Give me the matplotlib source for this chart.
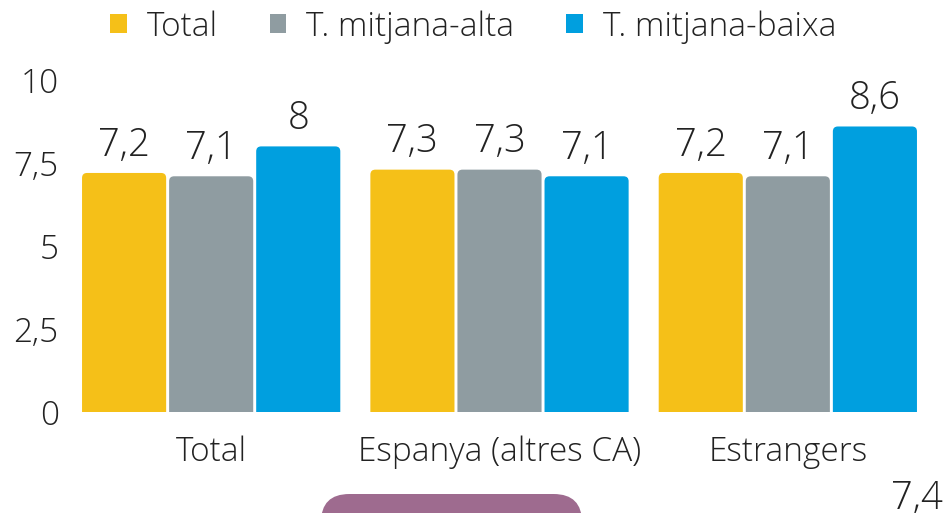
import numpy as np
import matplotlib.pyplot as plt
from matplotlib.patches import FancyBboxPatch, Patch

# Data
categories = ["Total", "Espanya (altres CA)", "Estrangers"]
series_names = ["Total", "T. mitjana-alta", "T. mitjana-baixa"]
total_vals = [7.2, 7.3, 7.2]
alta_vals = [7.1, 7.3, 7.1]
baixa_vals = [8.0, 7.1, 8.6]
yticks = [0, 2.5, 5, 7.5, 10]
ytick_labels = ["0", "2,5", "5", "7,5", "10"]
extra_label = "7,4"

colors = ["#F5C018", "#8F9CA1", "#009FDF"]
TEXT = "#222222"

plt.rcParams["font.family"] = ["Open Sans", "DejaVu Sans"]
FW = "light"
FS = 24
VAL_FS = 27.5


def fmt(v):
    s = f"{v:.1f}".rstrip("0").rstrip(".")
    return s.replace(".", ",")


fig = plt.figure(figsize=(9.46, 5.13), dpi=100)
ax = fig.add_axes([67 / 946, 101 / 513, 865 / 946, 332 / 513])
ax.set_xlim(-0.5, 2.5)
ax.set_ylim(0, 10)

bar_w = 0.2917
offsets = [-0.302, 0.0, 0.302]
x = np.arange(len(categories))
# px per data unit, for round corners
px_x = 865 / 3.0
px_y = 332 / 10.0
aspect = px_x / px_y
rad = 5 / px_x

for vals, off, col in zip([total_vals, alta_vals, baixa_vals], offsets, colors):
    for xi, v in zip(x, vals):
        left = xi + off - bar_w / 2
        box = FancyBboxPatch((left, -0.5), bar_w, v + 0.5,
                             boxstyle=f"round,pad=0,rounding_size={rad}",
                             mutation_aspect=aspect, facecolor=col,
                             edgecolor="none", clip_on=True)
        ax.add_patch(box)
        ax.annotate(fmt(v), (xi + off, v), xytext=(0, 6),
                    textcoords="offset points", ha="center", va="bottom",
                    fontsize=VAL_FS, fontweight=FW, color=TEXT, clip_on=False)

ax.set_xticks(x)
ax.set_xticklabels(categories, fontsize=FS, fontweight=FW, color=TEXT)
ax.set_yticks(yticks)
ax.set_yticklabels(ytick_labels, fontsize=FS, fontweight=FW, color=TEXT)
ax.tick_params(axis="x", length=0, pad=17)
ax.tick_params(axis="y", length=0, pad=6)
for s in ax.spines.values():
    s.set_visible(False)

handles = [Patch(facecolor=c, edgecolor="none") for c in colors]
leg = fig.legend(handles, series_names, loc="center", bbox_to_anchor=(0.5, 1 - 27 / 513),
                 ncol=3, frameon=False, handlelength=0.5, handleheight=0.5,
                 handletextpad=0.6, columnspacing=1.55,
                 prop={"family": ["Open Sans", "DejaVu Sans"], "size": FS, "weight": FW})
for t in leg.get_texts():
    t.set_color(TEXT)

# cropped elements visible at the bottom of the picture
fig.patches.append(FancyBboxPatch((321 / 946, -40 / 513), 261 / 946, 59 / 513,
                                  boxstyle="round,pad=0,rounding_size=0.03",
                                  mutation_aspect=946 / 513,
                                  transform=fig.transFigure, facecolor="#9E6B8F",
                                  edgecolor="none"))
fig.text(943 / 946, 4 / 513, extra_label, ha="right", va="baseline",
         fontsize=VAL_FS, fontweight=FW, color=TEXT)

fig.savefig("out.png", dpi=100)
